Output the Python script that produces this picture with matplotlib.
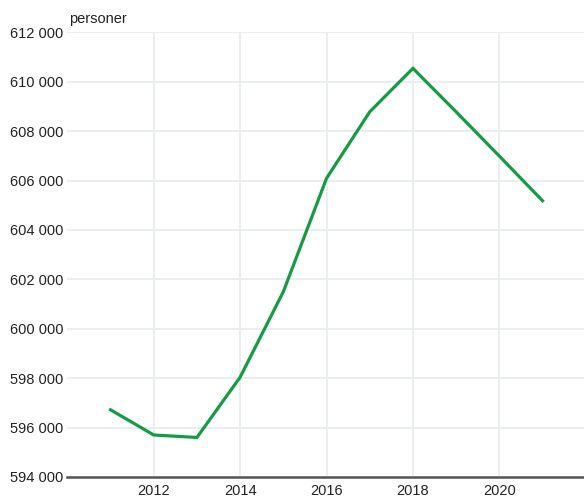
import matplotlib
matplotlib.use("Agg")
import matplotlib.pyplot as plt
from matplotlib.ticker import FuncFormatter, FixedLocator

years = [2011, 2012, 2013, 2014, 2015, 2016, 2017, 2018, 2019, 2020, 2021]
values = [596720, 595700, 595600, 598040, 601500, 606090, 608780, 610540, 608780, 606990, 605180]
y_ticks = list(range(594000, 612001, 2000))
x_ticks = [2012, 2014, 2016, 2018, 2020]
unit_label = "personer"

plt.rcParams['font.family'] = ['Liberation Sans', 'DejaVu Sans']

fig = plt.figure(figsize=(5.84, 4.99), dpi=100)
ax = fig.add_axes([0.1153, 0.0441, 0.8847, 0.8912])

ax.plot(years, values, color='#169b45', linewidth=2.3, solid_joinstyle='miter', zorder=3)

ax.set_xlim(2010, 2021.96)
ax.set_ylim(594000, 612000)
ax.yaxis.set_major_locator(FixedLocator(y_ticks))
ax.xaxis.set_major_locator(FixedLocator(x_ticks))
ax.yaxis.set_major_formatter(FuncFormatter(lambda v, p: f"{int(v):,}".replace(",", " ")))

ax.grid(True, color='#e9eded', linewidth=1.3, zorder=0)
ax.set_axisbelow(True)
for s in ['left', 'right', 'top']:
    ax.spines[s].set_visible(False)
ax.spines['bottom'].set_color('#555555')
ax.spines['bottom'].set_linewidth(1.8)
ax.spines['bottom'].set_zorder(4)

ax.tick_params(axis='both', length=0, labelsize=10.5, colors='#222222')
ax.tick_params(axis='y', pad=3)
ax.tick_params(axis='x', pad=5)

fig.text(69/584, 1 - 19/499, unit_label, fontsize=10.5, color='#222222', ha='left', va='center')

fig.savefig("out.png", dpi=100)
